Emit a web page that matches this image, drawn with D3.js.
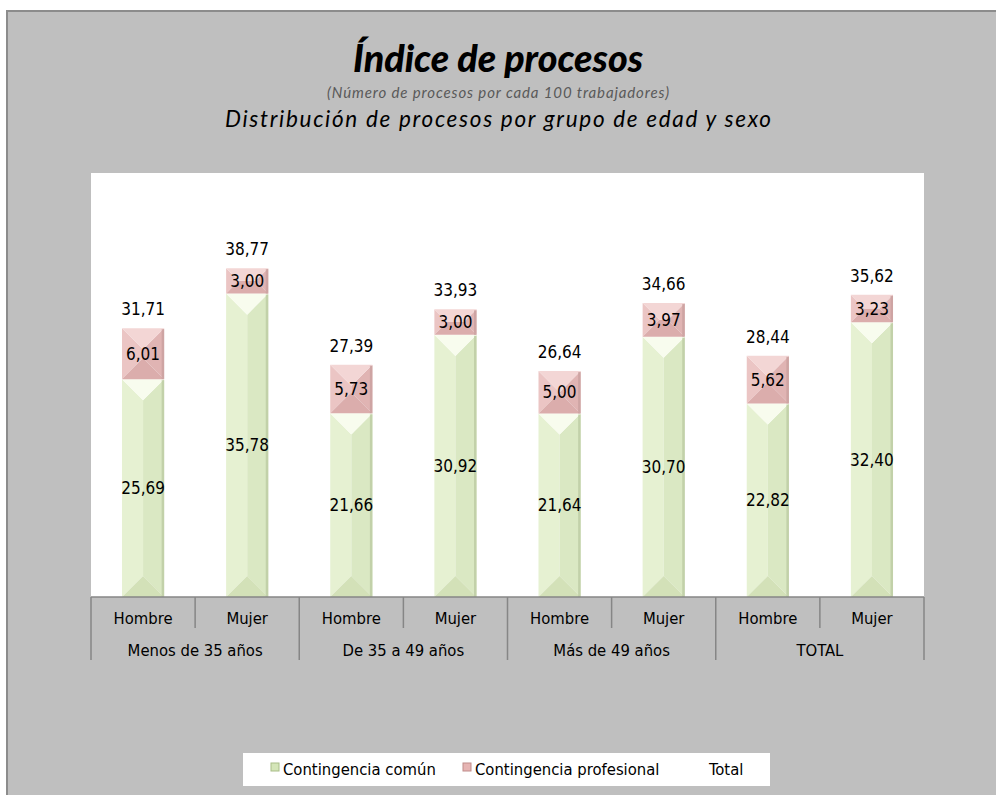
<!DOCTYPE html>
<html><head><meta charset="utf-8">
<script src="https://cdn.jsdelivr.net/npm/d3@7"></script>
<style>body{margin:0;background:#fff}svg{display:block}</style>
</head><body><svg id="c" width="996" height="795"></svg>
<script>
const groups = ["Menos de 35 años", "De 35 a 49 años", "Más de 49 años", "TOTAL"];
const sexes = ["Hombre", "Mujer"];
const comun = [25.69, 35.78, 21.66, 30.92, 21.64, 30.70, 22.82, 32.40];
const profesional = [6.01, 3.00, 5.73, 3.00, 5.00, 3.97, 5.62, 3.23];
const total = [31.71, 38.77, 27.39, 33.93, 26.64, 34.66, 28.44, 35.62];
const seriesNames = ["Contingencia común", "Contingencia profesional", "Total"];
const yDomain = [0, 50];

const fmt = v => d3.format(".2f")(v).replace(".", ",");
const LF = "'DejaVu Sans Condensed','DejaVu Sans',sans-serif";
const TF = "Lato,'Open Sans',sans-serif";

const svg = d3.select("#c");
const W = 996, H = 795;
const plot = {l: 91, r: 924, t: 173, b: 597};

// outer chart area
svg.append("rect").attr("x", 7).attr("y", 11).attr("width", W).attr("height", H)
  .attr("fill", "#bfbfbf").attr("stroke", "#8c8c8c").attr("stroke-width", 2);

// titles
svg.append("text").attr("x", 498).attr("y", 72).attr("text-anchor", "middle")
  .attr("font-family", TF).attr("font-weight", 900).attr("font-style", "italic")
  .attr("font-size", 37).attr("fill", "#000")
  .attr("textLength", 290).attr("lengthAdjust", "spacingAndGlyphs")
  .text("Índice de procesos");
svg.append("text").attr("x", 498).attr("y", 98).attr("text-anchor", "middle")
  .attr("font-family", TF).attr("font-style", "italic")
  .attr("font-size", 15).attr("fill", "#595959")
  .attr("textLength", 342).attr("lengthAdjust", "spacing")
  .text("(Número de procesos por cada 100 trabajadores)");
svg.append("text").attr("x", 498).attr("y", 127).attr("text-anchor", "middle")
  .attr("font-family", TF).attr("font-style", "italic")
  .attr("font-size", 22.5).attr("fill", "#000")
  .attr("textLength", 546).attr("lengthAdjust", "spacing")
  .text("Distribución de procesos por grupo de edad y sexo");

// plot area
svg.append("rect").attr("x", plot.l).attr("y", plot.t)
  .attr("width", plot.r - plot.l).attr("height", plot.b - plot.t).attr("fill", "#fff");

const idx = d3.range(comun.length);
const xBand = d3.scaleBand().domain(idx).range([plot.l, plot.r]);
const x = d3.scaleBand().domain(idx).range([plot.l, plot.r]).paddingInner(0.595).paddingOuter(0.2975);
const y = d3.scaleLinear().domain(yDomain).range([plot.b, plot.t]);

const palGreen = {top: "#f8fcee", left: "#e6f1d2", right: "#dae8c3", bottom: "#d3e1b8", edge: "#bccaa3"};
const palPink = {top: "#f3d6d5", left: "#ebc5c4", right: "#e0b4b3", bottom: "#dbadac", edge: "#c9a09f"};

function bevel(g, x0, y0, w, h, p) {
  const x1 = x0 + w, y1 = y0 + h;
  const b = Math.min(w / 2, h / 2);
  const polys = [
    [p.left, [[x0, y0], [x0 + b, y0 + b], [x0 + b, y1 - b], [x0, y1]]],
    [p.right, [[x1, y0], [x1 - b, y0 + b], [x1 - b, y1 - b], [x1, y1]]],
    [p.bottom, [[x0, y1], [x1, y1], [x1 - b, y1 - b], [x0 + b, y1 - b]]],
    [p.top, [[x0, y0], [x1, y0], [x1 - b, y0 + b], [x0 + b, y0 + b]]]
  ];
  polys.forEach(([c, pts]) => {
    g.append("polygon").attr("points", pts.map(q => q.join(",")).join(" ")).attr("fill", c);
  });
  g.append("rect").attr("x", x1 - 2.5).attr("y", y0 + 1).attr("width", 2.5).attr("height", h - 1)
    .attr("fill", p.edge).attr("opacity", 0.8);
}

const bars = svg.append("g");
idx.forEach(i => {
  const bx = x(i), bw = x.bandwidth();
  const g = bars.append("g");
  const yc = y(comun[i]);
  bevel(g, bx, yc, bw, y(0) - yc, palGreen);
  const yp = y(comun[i] + profesional[i]);
  bevel(g, bx, yp, bw, yc - yp, palPink);
});

// labels
const lab = svg.append("g").attr("font-family", LF).attr("font-size", 17)
  .attr("fill", "#000").attr("text-anchor", "middle");
idx.forEach(i => {
  const cx = x(i) + x.bandwidth() / 2;
  lab.append("text").attr("x", cx).attr("y", (y(comun[i]) + y(0)) / 2).attr("dy", "0.36em").text(fmt(comun[i]));
  lab.append("text").attr("x", cx).attr("y", (y(comun[i]) + y(comun[i] + profesional[i])) / 2).attr("dy", "0.36em").text(fmt(profesional[i]));
  lab.append("text").attr("x", cx).attr("y", y(total[i]) - 13).text(fmt(total[i]));
});

// category axis
const ax = svg.append("g");
ax.append("line").attr("x1", plot.l).attr("x2", plot.r).attr("y1", plot.b).attr("y2", plot.b)
  .attr("stroke", "#868686").attr("stroke-width", 1.5);
const bounds = idx.map(i => xBand(i)).concat([plot.r]);
bounds.forEach((bx, k) => {
  ax.append("line").attr("x1", bx).attr("x2", bx).attr("y1", plot.b)
    .attr("y2", k % 2 === 0 ? 660 : 628).attr("stroke", "#868686").attr("stroke-width", 1.5);
});
const axT = ax.append("g").attr("font-family", LF).attr("font-size", 16.5).attr("fill", "#000").attr("text-anchor", "middle");
idx.forEach(i => {
  axT.append("text").attr("x", xBand(i) + xBand.bandwidth() / 2).attr("y", 624).text(sexes[i % 2]);
});
groups.forEach((gname, j) => {
  axT.append("text").attr("x", xBand(2 * j) + xBand.bandwidth()).attr("y", 656).text(gname);
});

// legend
const lg = svg.append("g");
lg.append("rect").attr("x", 243).attr("y", 753).attr("width", 527).attr("height", 33).attr("fill", "#fff");
const legX = [271, 463, 697];
const legCol = [["#d4e5b8", "#a9bd88"], ["#e6b4b3", "#c08c8a"], null];
seriesNames.forEach((n, i) => {
  if (legCol[i]) {
    lg.append("rect").attr("x", legX[i]).attr("y", 763).attr("width", 8).attr("height", 8)
      .attr("fill", legCol[i][0]).attr("stroke", legCol[i][1]).attr("stroke-width", 1);
  }
  lg.append("text").attr("x", legX[i] + 12).attr("y", 775).attr("font-family", LF)
    .attr("font-size", 16.5).attr("fill", "#000").text(n);
});
</script>
</body></html>
